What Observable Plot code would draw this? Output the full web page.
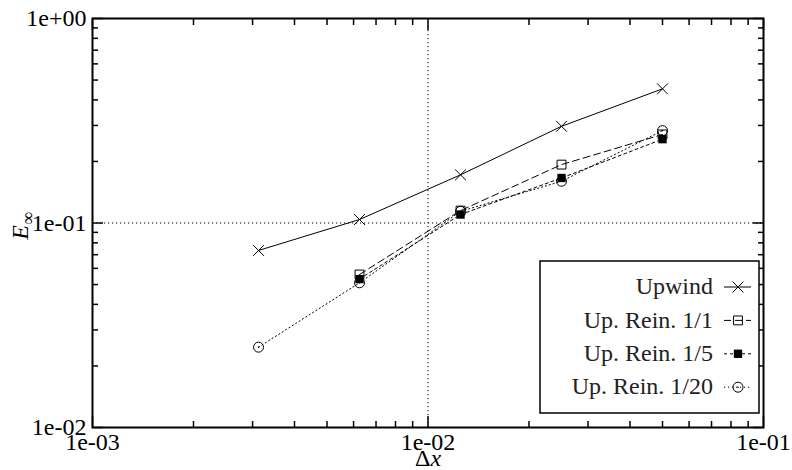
<!DOCTYPE html>
<html><head><meta charset="utf-8">
<script src="https://cdn.jsdelivr.net/npm/d3@7"></script>
<script src="https://cdn.jsdelivr.net/npm/@observablehq/plot@0.6"></script>
<style>
html,body{margin:0;padding:0;background:#fff}
svg text, svg tspan { font-family: "Liberation Serif", "Times New Roman", serif !important; }
</style>
</head><body><div id="chart"></div>
<script>
// ---- data ----
const xValues = [0.003125, 0.00625, 0.0125, 0.025, 0.05];
const upwind  = [0.0734, 0.104, 0.172, 0.297, 0.453];
const rein1   = [null, 0.056, 0.115, 0.193, 0.271];
const rein5   = [null, 0.0532, 0.110, 0.166, 0.257];
const rein20  = [0.0247, 0.051, 0.114, 0.160, 0.283];
const seriesNames = ["Upwind", "Up. Rein. 1/1", "Up. Rein. 1/5", "Up. Rein. 1/20"];
const seriesValues = [upwind, rein1, rein5, rein20];
const xMajor = [1e-3, 1e-2, 1e-1];
const xTickLabels = ["1e-03", "1e-02", "1e-01"];
const yMajor = [1e-2, 1e-1, 1];
const yTickLabels = ["1e-02", "1e-01", "1e+00"];
const mult = [2, 3, 4, 5, 6, 7, 8, 9];
const xMinor = [1e-3, 1e-2].flatMap(b => mult.map(m => m * b));
const yMinor = [1e-2, 1e-1].flatMap(b => mult.map(m => m * b));

const rows = seriesNames.flatMap((s, k) =>
  xValues.map((x, i) => ({series: s, x, y: seriesValues[k][i]})).filter(d => d.y != null));

// ---- styles ----
const FONT = '"Liberation Serif", "Times New Roman", serif';
const dashes = [null, "7,4", "3,3", "1.2,2.8"];
const bySeries = s => rows.filter(d => d.series === s);

const marks = [
  Plot.ruleX([1e-2], {stroke: "black", strokeWidth: 1, strokeDasharray: "1.2,2.8"}),
  Plot.ruleY([1e-1], {stroke: "black", strokeWidth: 1, strokeDasharray: "1.2,2.8"}),
  ...seriesNames.map((s, k) => Plot.line(bySeries(s), {x: "x", y: "y", stroke: "black", strokeWidth: 1, strokeDasharray: dashes[k]})),
  Plot.dot(bySeries(seriesNames[0]), {x: "x", y: "y", symbol: "times", r: 5, stroke: "black", strokeWidth: 1}),
  Plot.dot(bySeries(seriesNames[1]), {x: "x", y: "y", symbol: "square", r: 5, fill: "none", stroke: "black", strokeWidth: 1}),
  Plot.dot(bySeries(seriesNames[2]), {x: "x", y: "y", symbol: "square", r: 4.7, fill: "black", stroke: "none"}),
  Plot.dot(bySeries(seriesNames[3]), {x: "x", y: "y", symbol: "circle", r: 5, fill: "none", stroke: "black", strokeWidth: 1}),
  Plot.dot(bySeries(seriesNames[3]), {x: "x", y: "y", r: 0.8, fill: "black"}),
  // tick labels
  Plot.axisX(xMajor, {anchor: "bottom", label: null, tickSize: 0, tickPadding: 5, fontSize: 24, tickFormat: d => xTickLabels[xMajor.indexOf(d)]}),
  Plot.axisY(yMajor, {anchor: "left", label: null, tickSize: 0, tickPadding: 6, fontSize: 24, tickFormat: d => yTickLabels[yMajor.indexOf(d)]}),
  // inward ticks on all sides
  ...["bottom", "top"].flatMap(a => [
    Plot.axisX(xMajor, {anchor: a, label: null, tickSize: -11, strokeWidth: 1.5, tickFormat: () => ""}),
    Plot.axisX(xMinor, {anchor: a, label: null, tickSize: -6, strokeWidth: 1.5, tickFormat: () => ""})
  ]),
  ...["left", "right"].flatMap(a => [
    Plot.axisY(yMajor, {anchor: a, label: null, tickSize: -11, strokeWidth: 1.5, tickFormat: () => ""}),
    Plot.axisY(yMinor, {anchor: a, label: null, tickSize: -6, strokeWidth: 1.5, tickFormat: () => ""})
  ]),
  Plot.frame({stroke: "black", strokeWidth: 2})
];

const chart = Plot.plot({
  width: 792, height: 470,
  marginLeft: 92, marginRight: 29, marginTop: 18, marginBottom: 43,
  x: {type: "log", domain: [1e-3, 1e-1], label: null},
  y: {type: "log", domain: [1e-2, 1], label: null},
  style: {fontFamily: FONT, fontSize: "24px", color: "black", background: "white"},
  marks
});
document.getElementById("chart").appendChild(chart);

// ---- axis titles & legend ----
const svg = d3.select(chart);
const xl = svg.append("text").attr("x", 428).attr("y", 466).attr("text-anchor", "middle")
  .attr("font-family", FONT).attr("font-size", 24).attr("fill", "black");
xl.append("tspan").text("Δ");
xl.append("tspan").attr("font-style", "italic").text("x");

const yl = svg.append("text").attr("transform", "translate(28,226) rotate(-90)").attr("text-anchor", "middle")
  .attr("font-family", FONT).attr("font-size", 24).attr("fill", "black");
yl.append("tspan").attr("font-style", "italic").text("E");
yl.append("tspan").attr("font-size", 18).attr("dy", 6).text("∞");

const lg = svg.append("g").attr("font-family", FONT).attr("font-size", 24);
lg.append("rect").attr("x", 540).attr("y", 261).attr("width", 219).attr("height", 152)
  .attr("fill", "white").attr("stroke", "black").attr("stroke-width", 1.5);
const sym = [
  {type: d3.symbolTimes, r: 5, fill: "none", stroke: "black"},
  {type: d3.symbolSquare, r: 5, fill: "none", stroke: "black"},
  {type: d3.symbolSquare, r: 4.7, fill: "black", stroke: "none"},
  {type: d3.symbolCircle, r: 5, fill: "none", stroke: "black"}
];
seriesNames.forEach((s, k) => {
  const cy = 287 + k * 33.4;
  lg.append("text").attr("x", 713).attr("y", cy).attr("dy", "0.3em").attr("text-anchor", "end")
    .attr("fill", "#222").text(s);
  lg.append("line").attr("x1", 724).attr("x2", 751).attr("y1", cy).attr("y2", cy)
    .attr("stroke", "black").attr("stroke-width", 1).attr("stroke-dasharray", dashes[k]);
  lg.append("path").attr("transform", `translate(738,${cy})`)
    .attr("d", d3.symbol(sym[k].type, Math.PI * sym[k].r * sym[k].r)())
    .attr("fill", sym[k].fill).attr("stroke", sym[k].stroke).attr("stroke-width", 1);
  if (k === 3) lg.append("circle").attr("cx", 738).attr("cy", cy).attr("r", 0.8).attr("fill", "black");
});
</script></body></html>
